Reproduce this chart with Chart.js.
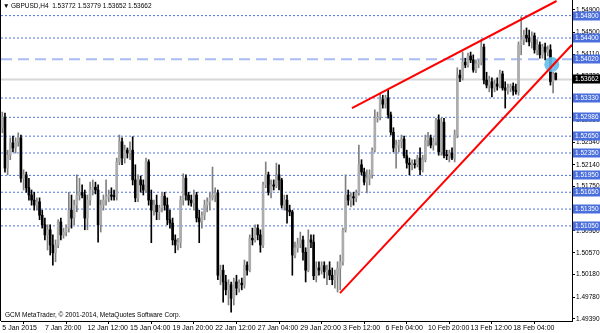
<!DOCTYPE html>
<html>
<head>
<meta charset="utf-8">
<script src="https://cdn.jsdelivr.net/npm/chart.js@4.4.1/dist/chart.umd.min.js"></script>
<style>
  html, body { margin: 0; padding: 0; background: #fff; }
  #chart { display: block; }
</style>
</head>
<body>
<canvas id="chart" width="600" height="333"></canvas>
<script>
// GBPUSD H4 bars
const barOpen = [
    1.5280,1.5299,1.5208,1.5231,1.5253,1.5244,1.5255,1.5262,1.5190,1.5196,
    1.5173,1.5160,1.5151,1.5142,1.5148,1.5124,1.5107,1.5089,1.5098,1.5071,
    1.5057,1.5071,1.5112,1.5089,1.5094,1.5101,1.5133,1.5119,1.5142,1.5160,
    1.5165,1.5160,1.5119,1.5151,1.5169,1.5174,1.5169,1.5107,1.5142,1.5151,
    1.5157,1.5160,1.5158,1.5157,1.5219,1.5255,1.5226,1.5240,1.5235,1.5240,
    1.5187,1.5155,1.5187,1.5178,1.5169,1.5219,1.5151,1.5133,1.5142,1.5130,
    1.5137,1.5158,1.5142,1.5116,1.5110,1.5080,1.5071,1.5076,1.5151,1.5190,
    1.5160,1.5151,1.5146,1.5160,1.5119,1.5112,1.5124,1.5142,1.5148,1.5155,
    1.5160,1.5164,1.5017,1.5026,1.5005,1.4991,1.5000,1.4976,1.5005,1.4994,
    1.5003,1.5000,1.5035,1.5026,1.5083,1.5080,1.5101,1.5089,1.5071,1.5178,
    1.5196,1.5165,1.5178,1.5176,1.5196,1.5187,1.5142,1.5151,1.5133,1.5130,
    1.5053,1.5066,1.5073,1.5080,1.5058,1.5026,1.5080,1.5076,1.5016,1.5030,
    1.5026,1.5034,1.5023,1.5026,1.5017,1.5009,1.5017,1.5030,1.5041,1.5098,
    1.5160,1.5151,1.5157,1.5155,1.5164,1.5214,1.5201,1.5183,1.5190,1.5196,
    1.5240,1.5297,1.5299,1.5330,1.5322,1.5333,1.5303,1.5272,1.5244,1.5249,
    1.5255,1.5260,1.5230,1.5217,1.5214,1.5215,1.5214,1.5226,1.5205,1.5223,
    1.5258,1.5262,1.5249,1.5255,1.5294,1.5237,1.5290,1.5231,1.5230,1.5235,
    1.5226,1.5267,1.5374,1.5369,1.5397,1.5392,1.5408,1.5401,1.5383,1.5394,
    1.5396,1.5424,1.5365,1.5356,1.5362,1.5351,1.5358,1.5354,1.5376,1.5351,
    1.5347,1.5351,1.5354,1.5347,1.5344,1.5428,1.5437,1.5445,1.5440,1.5433,
    1.5444,1.5419,1.5428,1.5410,1.5424,1.5415,1.5419,1.5362,1.53772
];
const barHigh = [
    1.5308,1.5306,1.5240,1.5262,1.5265,1.5262,1.5271,1.5267,1.5205,1.5201,
    1.5190,1.5169,1.5165,1.5155,1.5155,1.5133,1.5119,1.5107,1.5107,1.5089,
    1.5080,1.5116,1.5119,1.5101,1.5107,1.5165,1.5160,1.5151,1.5196,1.5190,
    1.5178,1.5169,1.5160,1.5183,1.5187,1.5183,1.5178,1.5151,1.5160,1.5187,
    1.5169,1.5173,1.5169,1.5226,1.5267,1.5262,1.5249,1.5244,1.5255,1.5264,
    1.5214,1.5196,1.5194,1.5187,1.5226,1.5223,1.5169,1.5151,1.5160,1.5142,
    1.5165,1.5165,1.5155,1.5133,1.5119,1.5089,1.5083,1.5158,1.5198,1.5196,
    1.5165,1.5160,1.5169,1.5165,1.5133,1.5130,1.5151,1.5155,1.5164,1.5210,
    1.5173,1.5169,1.5035,1.5035,1.5017,1.5009,1.5005,1.5012,1.5017,1.5009,
    1.5012,1.5044,1.5041,1.5089,1.5101,1.5107,1.5107,1.5098,1.5183,1.5219,
    1.5201,1.5187,1.5187,1.5217,1.5214,1.5190,1.5160,1.5160,1.5142,1.5133,
    1.5076,1.5083,1.5094,1.5087,1.5066,1.5098,1.5089,1.5089,1.5041,1.5041,
    1.5041,1.5041,1.5035,1.5041,1.5030,1.5026,1.5041,1.5053,1.5101,1.5196,
    1.5169,1.5164,1.5165,1.5169,1.5249,1.5223,1.5208,1.5205,1.5205,1.5244,
    1.5312,1.5308,1.5342,1.5338,1.5338,1.5347,1.5308,1.5280,1.5258,1.5258,
    1.5267,1.5265,1.5240,1.5226,1.5223,1.5223,1.5231,1.5244,1.5231,1.5267,
    1.5272,1.5267,1.5262,1.5297,1.5303,1.5297,1.5297,1.5240,1.5240,1.5244,
    1.5276,1.5387,1.5383,1.5415,1.5404,1.5413,1.5415,1.5410,1.5401,1.5401,
    1.5437,1.5429,1.5379,1.5372,1.5369,1.5365,1.5369,1.5383,1.5381,1.5362,
    1.5358,1.5358,1.5360,1.5358,1.5433,1.5478,1.5454,1.5458,1.5454,1.5451,
    1.5449,1.5437,1.5433,1.5429,1.5431,1.5426,1.5428,1.5379,1.53779
];
const barLow = [
    1.5271,1.5201,1.5196,1.5223,1.5237,1.5235,1.5247,1.5183,1.5169,1.5165,
    1.5151,1.5142,1.5133,1.5133,1.5116,1.5101,1.5080,1.5062,1.5053,1.5035,
    1.5041,1.5066,1.5080,1.5083,1.5087,1.5094,1.5101,1.5107,1.5130,1.5151,
    1.5155,1.5098,1.5098,1.5142,1.5160,1.5162,1.5076,1.5094,1.5133,1.5142,
    1.5148,1.5151,1.5151,1.5151,1.5214,1.5214,1.5217,1.5226,1.5223,1.5178,
    1.5148,1.5148,1.5165,1.5160,1.5165,1.5142,1.5075,1.5124,1.5116,1.5116,
    1.5130,1.5133,1.5107,1.5101,1.5071,1.5057,1.5062,1.5066,1.5142,1.5151,
    1.5142,1.5140,1.5133,1.5112,1.5075,1.5101,1.5116,1.5130,1.5133,1.5151,
    1.5148,1.5009,1.5000,1.4969,1.4982,1.4964,1.4951,1.4964,1.4982,1.4987,
    1.4991,1.4994,1.5017,1.5023,1.5071,1.5076,1.5080,1.5058,1.5066,1.5173,
    1.5160,1.5155,1.5169,1.5173,1.5169,1.5137,1.5133,1.5110,1.5123,1.5017,
    1.5048,1.5058,1.5066,1.5044,1.5005,1.5023,1.5066,1.5009,1.5005,1.5017,
    1.5019,1.5012,1.5000,1.5009,1.5000,1.4994,1.4987,1.4991,1.5035,1.5094,
    1.5142,1.5139,1.5142,1.5148,1.5160,1.5196,1.5178,1.5164,1.5178,1.5190,
    1.5237,1.5290,1.5294,1.5315,1.5315,1.5297,1.5267,1.5237,1.5208,1.5237,
    1.5244,1.5226,1.5208,1.5196,1.5205,1.5208,1.5210,1.5196,1.5201,1.5219,
    1.5247,1.5244,1.5240,1.5249,1.5231,1.5231,1.5226,1.5223,1.5219,1.5223,
    1.5219,1.5262,1.5362,1.5365,1.5387,1.5388,1.5396,1.5379,1.5378,1.5387,
    1.5392,1.5358,1.5351,1.5344,1.5335,1.5344,1.5347,1.5351,1.5347,1.5315,
    1.5340,1.5344,1.5338,1.5340,1.5338,1.5410,1.5428,1.5433,1.5426,1.5422,
    1.5413,1.5410,1.5404,1.5404,1.5401,1.5408,1.5356,1.5342,1.53652
];
const barClose = [
    1.5299,1.5208,1.5231,1.5253,1.5244,1.5255,1.5262,1.5190,1.5196,1.5173,
    1.5160,1.5151,1.5142,1.5148,1.5124,1.5107,1.5089,1.5098,1.5071,1.5057,
    1.5071,1.5112,1.5089,1.5094,1.5101,1.5133,1.5119,1.5142,1.5160,1.5165,
    1.5160,1.5119,1.5151,1.5169,1.5174,1.5169,1.5107,1.5142,1.5151,1.5157,
    1.5160,1.5158,1.5157,1.5219,1.5255,1.5226,1.5240,1.5235,1.5240,1.5187,
    1.5155,1.5187,1.5178,1.5169,1.5219,1.5151,1.5133,1.5142,1.5130,1.5137,
    1.5158,1.5142,1.5116,1.5110,1.5080,1.5071,1.5076,1.5151,1.5190,1.5160,
    1.5151,1.5146,1.5160,1.5119,1.5112,1.5124,1.5142,1.5148,1.5155,1.5160,
    1.5164,1.5017,1.5026,1.5005,1.4991,1.5000,1.4976,1.5005,1.4994,1.5003,
    1.5000,1.5035,1.5026,1.5083,1.5080,1.5101,1.5089,1.5071,1.5178,1.5196,
    1.5165,1.5178,1.5176,1.5196,1.5187,1.5142,1.5151,1.5133,1.5130,1.5053,
    1.5066,1.5073,1.5080,1.5058,1.5026,1.5080,1.5076,1.5016,1.5030,1.5026,
    1.5034,1.5023,1.5026,1.5017,1.5009,1.5017,1.5030,1.5041,1.5098,1.5160,
    1.5151,1.5157,1.5155,1.5164,1.5214,1.5201,1.5183,1.5190,1.5196,1.5240,
    1.5297,1.5299,1.5330,1.5322,1.5333,1.5303,1.5272,1.5244,1.5249,1.5255,
    1.5260,1.5230,1.5217,1.5214,1.5215,1.5214,1.5226,1.5205,1.5223,1.5258,
    1.5262,1.5249,1.5255,1.5294,1.5237,1.5290,1.5231,1.5230,1.5235,1.5226,
    1.5267,1.5374,1.5369,1.5397,1.5392,1.5408,1.5401,1.5383,1.5394,1.5396,
    1.5424,1.5365,1.5356,1.5362,1.5351,1.5358,1.5354,1.5376,1.5351,1.5347,
    1.5351,1.5354,1.5347,1.5344,1.5428,1.5437,1.5445,1.5440,1.5433,1.5444,
    1.5419,1.5428,1.5410,1.5424,1.5415,1.5419,1.5362,1.5376,1.53662
];

// time axis: one label every 16 bars
const dateTickIdx = [0, 16, 32, 48, 64, 80, 96, 112, 128, 144, 160, 176, 192];
const dateTickLabels = ['5 Jan 2015', '7 Jan 20:00', '12 Jan 12:00', '15 Jan 04:00', '19 Jan 20:00',
    '22 Jan 12:00', '27 Jan 04:00', '29 Jan 20:00', '3 Feb 12:00', '6 Feb 04:00',
    '10 Feb 20:00', '13 Feb 12:00', '18 Feb 04:00'];

// price scale labels
const priceTicks = [1.54900, 1.54500, 1.54110, 1.53720, 1.53330, 1.52930, 1.52540, 1.52140,
    1.51750, 1.51350, 1.50960, 1.50570, 1.50180, 1.49780, 1.49390];

// horizontal levels drawn on the chart
const levelValues = [1.54800, 1.54400, 1.53330, 1.52986, 1.52650, 1.52350, 1.51950, 1.51650, 1.51350, 1.51050];
const levelLabels = ['1.54800', '1.54400', '1.53330', '1.52986', '1.52650', '1.52350', '1.51950', '1.51650', '1.51350', '1.51050'];
const keyLevel = 1.54020;
const keyLevelLabel = '1.54020';

// trend lines [barIndex, price]
const upperTrend = [[131.4, 1.5315], [208.3, 1.5506]];
const lowerTrend = [[126.9, 1.4985], [214.1, 1.5428]];
const markPoint = [206.5, 1.5393];

const symbolName = 'GBPUSD,H4';
const copyrightText = 'GCM MetaTrader, \u00a9 2001-2014, MetaQuotes Software Corp.';

const X_MIN = -0.49, X_MAX = 214.1;
const Y_MIN = 1.49354, Y_MAX = 1.55078;
const FONT = 'Liberation Sans, Arial, sans-serif';

const last = barClose.length - 1;
const lastPrice = barClose[last];
const upBody = '#acacac', upWick = '#808080', downColor = '#000000';

function barColor(i, up, down) { return barClose[i] >= barOpen[i] ? up : down; }

const idx = barOpen.map(function (_, i) { return i; });
const wickData = idx.map(function (i) { return { x: i, y: [barLow[i], barHigh[i]] }; });
const bodyData = idx.map(function (i) { return { x: i, y: [barOpen[i], barClose[i]] }; });

function hLine(v, color, width, dash, order) {
    return {
        type: 'line', data: [{ x: X_MIN, y: v }, { x: X_MAX, y: v }],
        borderColor: color, borderWidth: width, borderDash: dash,
        pointRadius: 0, order: order
    };
}

const datasets = [];
levelValues.forEach(function (v) { datasets.push(hLine(v, '#5074e2', 1, [2, 2], 6)); });
datasets.push(hLine(keyLevel, '#aabdf2', 2, [11, 6], 6));
datasets.push(hLine(lastPrice, '#d6d6d6', 2, [], 5));
datasets.push({
    type: 'bar', data: wickData, grouped: false, barThickness: 1, borderWidth: 0,
    backgroundColor: idx.map(function (i) { return barColor(i, upWick, downColor); }), order: 4
});
datasets.push({
    type: 'bar', data: bodyData, grouped: false, barThickness: 2, borderWidth: 0, minBarLength: 1,
    backgroundColor: idx.map(function (i) { return barColor(i, upBody, downColor); }), order: 3
});
datasets.push({
    type: 'scatter', data: [{ x: markPoint[0], y: markPoint[1] }],
    pointRadius: 7.5, pointHoverRadius: 7.5, backgroundColor: 'rgba(100,188,235,0.9)', borderWidth: 0, order: 2
});
[upperTrend, lowerTrend].forEach(function (t) {
    datasets.push({
        type: 'line', data: t.map(function (p) { return { x: p[0], y: p[1] }; }),
        borderColor: '#ff0000', borderWidth: 2, pointRadius: 0, order: 1
    });
});

const overlayPlugin = {
    id: 'mtOverlay',
    afterDraw: function (chart) {
        const ctx = chart.ctx;
        const area = chart.chartArea;
        const ys = chart.scales.y;
        ctx.save();
        // left frame
        ctx.fillStyle = '#000';
        ctx.fillRect(0, 0, 1, area.bottom);

        // header and copyright
        ctx.font = '6.5px ' + FONT;
        ctx.textBaseline = 'middle';
        ctx.textAlign = 'left';
        ctx.fillStyle = '#000';
        const header = symbolName + '  ' + [barOpen[last], barHigh[last], barLow[last], barClose[last]]
            .map(function (v) { return v.toFixed(5); }).join(' ');
        ctx.fillText('\u25BC', 3, 6.5);
        ctx.fillText(header, 11, 6.5);
        ctx.fillText(copyrightText, 5, 315.5);

        // price boxes on the scale
        function box(v, text, bg) {
            const y = Math.round(ys.getPixelForValue(v));
            ctx.fillStyle = bg;
            ctx.fillRect(area.right + 1, y - 4.5, chart.width - area.right - 1, 9);
            ctx.fillStyle = '#fff';
            ctx.fillText(text, area.right + 3, y + 0.5);
        }
        levelValues.forEach(function (v, i) { box(v, levelLabels[i], '#4a6fdc'); });
        box(keyLevel, keyLevelLabel, '#4a6fdc');
        box(lastPrice, lastPrice.toFixed(5), '#000');
        ctx.restore();
    }
};

new Chart(document.getElementById('chart'), {
    type: 'bar',
    data: { datasets: datasets },
    options: {
        responsive: false,
        animation: false,
        devicePixelRatio: 1,
        layout: { autoPadding: false, padding: { left: 1, top: 0, right: 0, bottom: 0 } },
        plugins: { legend: { display: false }, tooltip: { enabled: false } },
        scales: {
            x: {
                type: 'linear', min: X_MIN, max: X_MAX, offset: false,
                afterBuildTicks: function (s) { s.ticks = dateTickIdx.map(function (v) { return { value: v }; }); },
                afterFit: function (s) { s.height = 12; s.paddingLeft = 0; s.paddingRight = 0; },
                ticks: {
                    autoSkip: false, maxRotation: 0, align: 'start', padding: 0, color: '#000',
                    font: { family: FONT, size: 7 },
                    callback: function (v, i) { return dateTickLabels[i]; }
                },
                grid: { drawOnChartArea: false, drawTicks: true, tickLength: 3, color: '#000' },
                border: { display: true, color: '#000' }
            },
            y: {
                position: 'right', min: Y_MIN, max: Y_MAX,
                afterBuildTicks: function (s) { s.ticks = priceTicks.map(function (v) { return { value: v }; }); },
                afterFit: function (s) { s.width = 28; s.paddingTop = 0; s.paddingBottom = 0; },
                ticks: {
                    autoSkip: false, padding: 1, color: '#000',
                    font: { family: FONT, size: 6.5 },
                    callback: function (v) { return Number(v).toFixed(5); }
                },
                grid: { drawOnChartArea: false, drawTicks: true, tickLength: 3, color: '#000' },
                border: { display: true, color: '#000' }
            }
        }
    },
    plugins: [overlayPlugin]
});
</script>
</body>
</html>
